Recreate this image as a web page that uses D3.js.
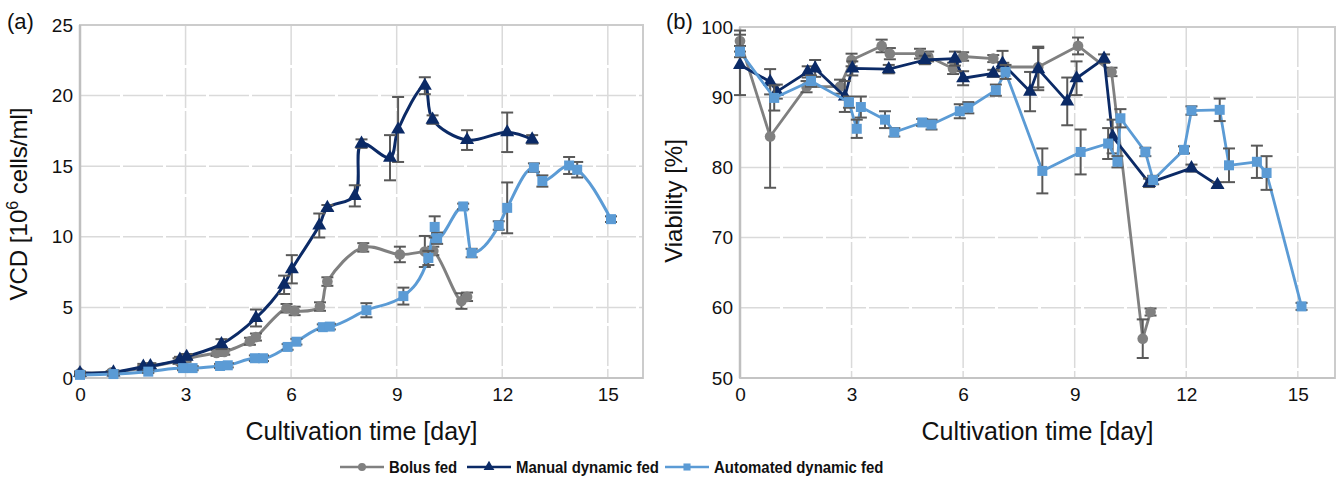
<!DOCTYPE html>
<html>
<head>
<meta charset="utf-8">
<script src="https://cdn.jsdelivr.net/npm/d3@7"></script>
<style>
  body { margin: 0; background: #fff; }
  text { font-family: "Liberation Sans", Arial, Helvetica, sans-serif; fill: #111; }
</style>
</head>
<body>
<svg id="chart" width="1339" height="481"></svg>
<script>
// ---- data ----
const xTicks = [0, 3, 6, 9, 12, 15];
const vcdTicks = [0, 5, 10, 15, 20, 25];
const viaTicks = [50, 60, 70, 80, 90, 100];
const seriesNames = ['Bolus fed', 'Manual dynamic fed', 'Automated dynamic fed'];

// (a) VCD [10^6 cells/ml]
const bolusVcdDay = [0, 0.9, 1.8, 2.0, 2.8, 3.0, 3.88, 4.1, 4.83, 5.0, 5.87, 6.1, 6.82, 7.03, 8.05, 9.09, 9.8, 10.04, 10.84, 11.0];
const bolusVcd = [0.35, 0.4, 0.7, 0.8, 1.2, 1.35, 1.77, 1.85, 2.6, 2.9, 4.94, 4.75, 5.06, 6.83, 9.25, 8.75, 8.96, 9.0, 5.45, 5.75];
const bolusVcdErr = [0.1, 0.1, 0.15, 0.15, 0.2, 0.2, 0.2, 0.2, 0.25, 0.25, 0.3, 0.3, 0.3, 0.3, 0.3, 0.55, 1.1, 0.3, 0.55, 0.3];

const manualVcdDay = [0, 0.95, 1.8, 2.0, 2.84, 3.03, 4.02, 5.0, 5.8, 6.02, 6.8, 7.03, 7.81, 8.0, 8.81, 9.04, 9.8, 10.02, 11.0, 12.14, 12.85];
const manualVcd = [0.35, 0.4, 0.8, 0.85, 1.3, 1.5, 2.4, 4.25, 6.6, 7.7, 10.8, 12.05, 12.9, 16.6, 15.6, 17.6, 20.7, 18.3, 16.85, 17.4, 16.9];
const manualVcdErr = [0.1, 0.15, 0.2, 0.2, 0.2, 0.2, 0.35, 0.6, 0.65, 1.0, 0.85, 0.2, 0.75, 0.3, 1.6, 2.3, 0.6, 0.3, 0.7, 1.4, 0.3];

const autoVcdDay = [0, 0.95, 1.94, 2.93, 3.2, 3.98, 4.2, 4.97, 5.2, 5.9, 6.15, 6.9, 7.1, 8.14, 9.19, 9.9, 10.08, 10.15, 10.89, 11.13, 11.9, 12.14, 12.9, 13.14, 13.9, 14.13, 15.09];
const autoVcd = [0.22, 0.28, 0.45, 0.7, 0.7, 0.85, 0.9, 1.4, 1.4, 2.2, 2.57, 3.6, 3.64, 4.8, 5.8, 8.5, 10.7, 9.9, 12.15, 8.85, 10.8, 12.05, 14.9, 13.95, 15.05, 14.75, 11.25];
const autoVcdErr = [0.1, 0.1, 0.1, 0.15, 0.15, 0.15, 0.15, 0.2, 0.2, 0.2, 0.2, 0.2, 0.2, 0.5, 0.6, 0.5, 0.75, 0.4, 0.2, 0.3, 0.3, 1.8, 0.3, 0.4, 0.6, 0.55, 0.2];

// (b) Viability [%]
const bolusViaDay = [0, 0.81, 1.79, 2.69, 3.0, 3.81, 4.03, 4.84, 5.06, 5.73, 6.0, 6.81, 7.08, 8.02, 9.09, 9.99, 10.83, 11.04];
const bolusVia = [98.0, 84.4, 91.5, 91.5, 95.3, 97.3, 96.2, 96.2, 95.8, 94.1, 95.8, 95.5, 94.3, 94.3, 97.3, 93.6, 55.6, 59.4];
const bolusViaErr = [1.5, 7.3, 0.8, 1.0, 0.9, 0.9, 0.8, 0.7, 0.7, 0.8, 0.6, 0.5, 0.6, 2.9, 1.2, 0.6, 2.75, 0.5];

const manualViaDay = [0, 0.81, 0.99, 1.82, 2.02, 2.82, 3.02, 4.0, 4.97, 5.78, 6.0, 6.81, 7.06, 7.8, 8.02, 8.8, 9.05, 9.79, 10.02, 11.0, 12.14, 12.84];
const manualVia = [94.6, 92.2, 90.8, 93.6, 94.1, 90.1, 94.1, 94.0, 95.3, 95.5, 92.7, 93.4, 94.8, 90.8, 94.0, 89.4, 92.7, 95.5, 84.4, 77.8, 79.9, 77.5];
const manualViaErr = [4.3, 1.8, 1.0, 0.8, 1.2, 2.2, 1.0, 0.6, 0.6, 1.0, 1.0, 0.5, 1.8, 2.8, 3.0, 3.4, 2.4, 0.6, 2.4, 0.6, 0.5, 0.4];

const autoViaDay = [0, 0.92, 1.91, 2.93, 3.14, 3.25, 3.9, 4.15, 4.9, 5.15, 5.91, 6.14, 6.88, 7.14, 8.13, 9.16, 9.9, 10.15, 10.23, 10.9, 11.11, 11.94, 12.14, 12.9, 13.15, 13.9, 14.16, 15.1];
const autoVia = [96.5, 89.9, 92.3, 89.3, 85.5, 88.6, 86.8, 85.0, 86.4, 86.1, 88.0, 88.5, 91.0, 93.6, 79.5, 82.2, 83.4, 80.8, 87.0, 82.2, 78.2, 82.5, 88.1, 88.2, 80.3, 80.8, 79.2, 60.2];
const autoViaErr = [0.8, 1.8, 0.8, 0.8, 1.3, 1.5, 1.2, 0.6, 0.5, 0.7, 1.0, 0.8, 0.8, 1.0, 3.2, 3.2, 2.2, 0.8, 1.3, 0.6, 0.6, 0.5, 0.6, 1.6, 2.4, 2.3, 2.4, 0.5];

// ---- styles ----
const colors = ['#808080', '#0b2a66', '#5b9bd5'];
const markers = [d3.symbolCircle, d3.symbolTriangle, d3.symbolSquare];
const markerSize = [90, 85, 100];
const errColor = '#595959';
const gridColor = '#dadada';

function zipSeries(days, vals, errs) {
  return days.map((d, i) => ({x: d, y: vals[i], e: errs[i]}));
}

const svg = d3.select('#chart');

function drawPanel(cfg) {
  let x = d3.scaleLinear().domain([0, 16]).range([cfg.left, cfg.right]);
  let y = d3.scaleLinear().domain(cfg.yDomain).range([cfg.bottom, cfg.top]);
  let g = svg.append('g');

  // grid
  g.append('g').selectAll('line').data(cfg.yTicks).join('line')
    .attr('x1', cfg.left).attr('x2', cfg.right)
    .attr('y1', d => y(d)).attr('y2', d => y(d))
    .attr('stroke', gridColor).attr('stroke-width', 1.5).attr('stroke-dasharray', '40,3');
  g.append('g').selectAll('line').data(xTicks).join('line')
    .attr('x1', d => x(d)).attr('x2', d => x(d))
    .attr('y1', cfg.top).attr('y2', cfg.bottom)
    .attr('stroke', gridColor).attr('stroke-width', 1.5).attr('stroke-dasharray', '40,3');
  g.append('rect')
    .attr('x', cfg.left).attr('y', cfg.top)
    .attr('width', cfg.right - cfg.left).attr('height', cfg.bottom - cfg.top)
    .attr('fill', 'none').attr('stroke', '#cccccc').attr('stroke-width', 2);
  g.append('line').attr('x1', cfg.left).attr('x2', cfg.left).attr('y1', cfg.top).attr('y2', cfg.bottom)
    .attr('stroke', '#bfbfbf').attr('stroke-width', 2.5);
  g.append('line').attr('x1', cfg.left).attr('x2', cfg.right).attr('y1', cfg.bottom).attr('y2', cfg.bottom)
    .attr('stroke', '#c4c4c4').attr('stroke-width', 2);

  // axes (labels only)
  let xAxis = g.append('g').attr('transform', `translate(0,${cfg.bottom})`)
    .call(d3.axisBottom(x).tickValues(xTicks).tickSize(0).tickPadding(10));
  let yAxis = g.append('g').attr('transform', `translate(${cfg.left},0)`)
    .call(d3.axisLeft(y).tickValues(cfg.yTicks).tickSize(0).tickPadding(7));
  [xAxis, yAxis].forEach(a => {
    a.select('.domain').remove();
    a.selectAll('text').attr('font-size', 19).attr('fill', '#111')
      .style('font-family', '"Liberation Sans", Arial, sans-serif');
  });

  // axis titles
  g.append('text')
    .attr('x', (cfg.left + cfg.right) / 2).attr('y', 440)
    .attr('text-anchor', 'middle').attr('font-size', 25)
    .text('Cultivation time [day]');
  let yt = g.append('text')
    .attr('transform', `translate(${cfg.yTitleX},${cfg.yTitleY}) rotate(-90)`)
    .attr('text-anchor', 'middle').attr('font-size', 24);
  cfg.yTitle(yt);

  g.append('text').attr('x', cfg.tagX).attr('y', 29).attr('font-size', 22).text(cfg.tag);

  // series
  cfg.series.forEach((s, i) => {
    let line = d3.line().x(d => x(d.x)).y(d => y(d.y)).curve(cfg.curves[i]);
    let sg = g.append('g');
    sg.append('path').datum(s)
      .attr('d', line).attr('fill', 'none')
      .attr('stroke', colors[i]).attr('stroke-width', cfg.lineWidth)
      .attr('stroke-linejoin', 'round');
    let eb = sg.append('g').attr('stroke', errColor).attr('stroke-width', 2);
    eb.selectAll('line.v').data(s).join('line').attr('class', 'v')
      .attr('x1', d => x(d.x)).attr('x2', d => x(d.x))
      .attr('y1', d => y(d.y - d.e)).attr('y2', d => y(d.y + d.e));
    eb.selectAll('line.t').data(s).join('line').attr('class', 't')
      .attr('x1', d => x(d.x) - 6).attr('x2', d => x(d.x) + 6)
      .attr('y1', d => y(d.y + d.e)).attr('y2', d => y(d.y + d.e));
    eb.selectAll('line.b').data(s).join('line').attr('class', 'b')
      .attr('x1', d => x(d.x) - 6).attr('x2', d => x(d.x) + 6)
      .attr('y1', d => y(d.y - d.e)).attr('y2', d => y(d.y - d.e));
    sg.selectAll('path.m').data(s).join('path').attr('class', 'm')
      .attr('transform', d => `translate(${x(d.x)},${y(d.y)})`)
      .attr('d', d3.symbol().type(markers[i]).size(markerSize[i]))
      .attr('fill', colors[i]);
  });
}

drawPanel({
  left: 80, right: 643, top: 25, bottom: 378,
  yDomain: [0, 25], yTicks: vcdTicks,
  tag: '(a)', tagX: 7,
  yTitleX: 27, yTitleY: 204,
  yTitle: t => {
    t.append('tspan').text('VCD [10');
    t.append('tspan').attr('dy', -9).attr('font-size', 16).text('6');
    t.append('tspan').attr('dy', 9).text(' cells/ml]');
  },
  lineWidth: 3,
  curves: [d3.curveCatmullRom.alpha(0.5), d3.curveCatmullRom.alpha(0.5), d3.curveMonotoneX],
  series: [
    zipSeries(bolusVcdDay, bolusVcd, bolusVcdErr),
    zipSeries(manualVcdDay, manualVcd, manualVcdErr),
    zipSeries(autoVcdDay, autoVcd, autoVcdErr)
  ]
});

drawPanel({
  left: 740, right: 1335, top: 27, bottom: 378,
  yDomain: [50, 100], yTicks: viaTicks,
  tag: '(b)', tagX: 666,
  yTitleX: 682, yTitleY: 201,
  yTitle: t => t.text('Viability [%]'),
  lineWidth: 2.8,
  curves: [d3.curveLinear, d3.curveLinear, d3.curveLinear],
  series: [
    zipSeries(bolusViaDay, bolusVia, bolusViaErr),
    zipSeries(manualViaDay, manualVia, manualViaErr),
    zipSeries(autoViaDay, autoVia, autoViaErr)
  ]
});

// legend
const legendX = [340, 467, 665];
const legend = svg.append('g').attr('transform', 'translate(0,467)');
seriesNames.forEach((name, i) => {
  let lg = legend.append('g').attr('transform', `translate(${legendX[i]},0)`);
  lg.append('line').attr('x1', 0).attr('x2', 44).attr('y1', 0).attr('y2', 0)
    .attr('stroke', colors[i]).attr('stroke-width', 2.5);
  lg.append('path').attr('transform', 'translate(22,0)')
    .attr('d', d3.symbol().type(markers[i]).size(50)).attr('fill', colors[i]);
  lg.append('text').attr('transform', 'translate(49,0) scale(0.88,1)').attr('dy', '0.36em')
    .attr('font-size', 17).attr('font-weight', 'bold').text(name);
});
</script>
</body>
</html>
